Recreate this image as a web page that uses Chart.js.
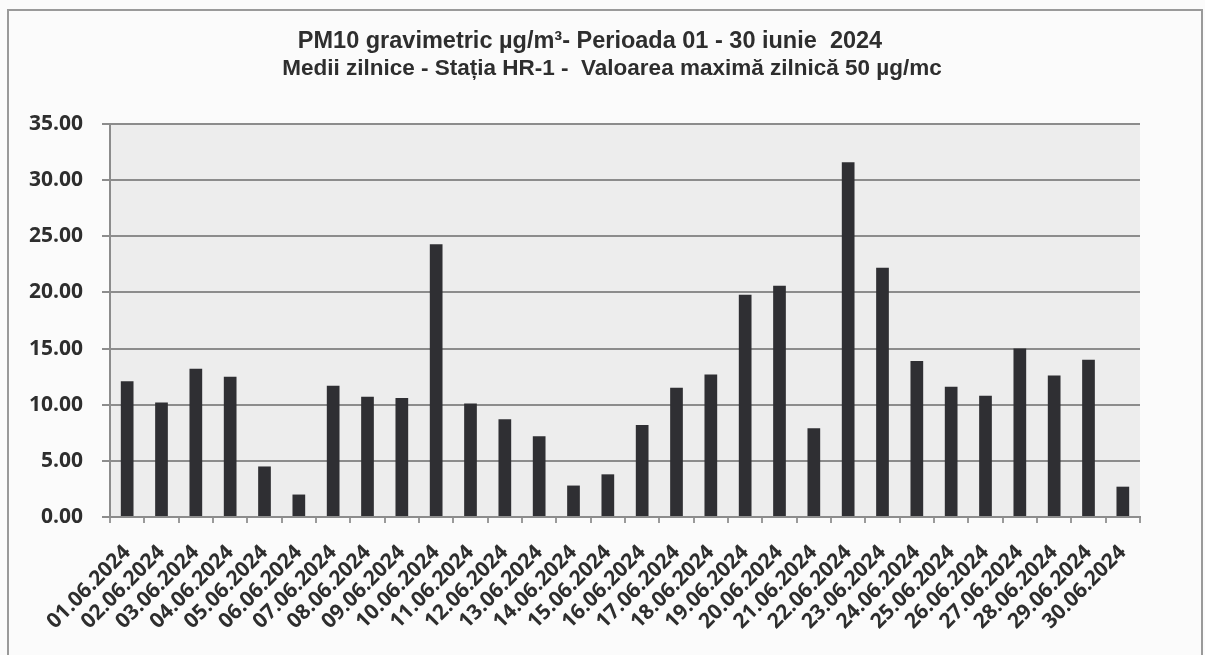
<!DOCTYPE html>
<html>
<head>
<meta charset="utf-8">
<script src="https://cdn.jsdelivr.net/npm/chart.js@4.4.1/dist/chart.umd.min.js"></script>
<style>
  html, body { margin: 0; padding: 0; background: #fbfbfb; }
  #wrap { width: 1205px; height: 655px; position: relative; }
</style>
</head>
<body>
<div id="wrap"><canvas id="c" width="1205" height="655"></canvas></div>
<script>
const titleLines = [
  "PM10 gravimetric µg/m³- Perioada 01 - 30 iunie  2024",
  "Medii zilnice - Stația HR-1 -  Valoarea maximă zilnică 50 µg/mc"
];
const categories = [
  "01.06.2024","02.06.2024","03.06.2024","04.06.2024","05.06.2024",
  "06.06.2024","07.06.2024","08.06.2024","09.06.2024","10.06.2024",
  "11.06.2024","12.06.2024","13.06.2024","14.06.2024","15.06.2024",
  "16.06.2024","17.06.2024","18.06.2024","19.06.2024","20.06.2024",
  "21.06.2024","22.06.2024","23.06.2024","24.06.2024","25.06.2024",
  "26.06.2024","27.06.2024","28.06.2024","29.06.2024","30.06.2024"
];
const pm10Values = [
  12.1, 10.2, 13.2, 12.5, 4.5,
  2.0, 11.7, 10.7, 10.6, 24.3,
  10.1, 8.7, 7.2, 2.8, 3.8,
  8.2, 11.5, 12.7, 19.8, 20.6,
  7.9, 31.6, 22.2, 13.9, 11.6,
  10.8, 15.0, 12.6, 14.0, 2.7
];
const yTicks = [0, 5, 10, 15, 20, 25, 30, 35];

const decor = {
  id: 'decor',
  beforeDraw(chart) {
    const ctx = chart.ctx, a = chart.chartArea;
    ctx.save();
    ctx.fillStyle = '#fbfbfb';
    ctx.fillRect(0, 0, chart.width, chart.height);
    ctx.strokeStyle = '#9a9a9a';
    ctx.lineWidth = 2;
    ctx.strokeRect(8, 10, 1194, 700);
    ctx.fillStyle = '#ededed';
    ctx.fillRect(a.left, a.top, a.right - a.left, a.bottom - a.top);
    ctx.restore();
  },
  afterDraw(chart) {
    const ctx = chart.ctx;
    ctx.save();
    ctx.fillStyle = '#2e2e2e';
    ctx.textAlign = 'center';
    ctx.textBaseline = 'alphabetic';
    ctx.font = 'bold 23.5px "Liberation Sans", Arial, sans-serif';
    ctx.fillText(titleLines[0], 590, 48);
    ctx.font = 'bold 22.5px "Liberation Sans", Arial, sans-serif';
    ctx.fillText(titleLines[1], 612, 75);
    ctx.restore();
  }
};

new Chart(document.getElementById('c'), {
  type: 'bar',
  data: {
    labels: categories,
    datasets: [{
      data: pm10Values,
      backgroundColor: '#2f2f33',
      borderWidth: 0,
      barPercentage: 0.37,
      categoryPercentage: 1.0
    }]
  },
  options: {
    responsive: false,
    animation: false,
    devicePixelRatio: 1,
    layout: { padding: { left: 20, right: 65, top: 124, bottom: 0 } },
    plugins: { legend: { display: false }, title: { display: false }, tooltip: { enabled: false } },
    scales: {
      y: {
        min: 0, max: 35,
        afterFit(s) { s.width = 90; },
        afterBuildTicks(s) { s.ticks = yTicks.map(v => ({ value: v })); },
        ticks: {
          callback: v => Number(v).toFixed(2),
          color: '#2e2e2e',
          font: { family: '"Open Sans", sans-serif', weight: 'bold', size: 21 },
          padding: 19
        },
        grid: { color: '#8c8c8c', lineWidth: 2, tickLength: 8, drawTicks: true },
        border: { color: '#8c8c8c', width: 2 }
      },
      x: {
        offset: true,
        afterFit(s) { s.height = 138; },
        ticks: {
          autoSkip: false,
          maxRotation: 45, minRotation: 45,
          color: '#2e2e2e',
          font: { family: '"Open Sans", sans-serif', weight: 'bold', size: 21 },
          padding: 17
        },
        grid: { display: true, drawOnChartArea: false, color: '#9a9a9a', lineWidth: 2, tickLength: 6, offset: true },
        border: { color: '#8c8c8c', width: 2 }
      }
    }
  },
  plugins: [decor]
});
</script>
</body>
</html>
